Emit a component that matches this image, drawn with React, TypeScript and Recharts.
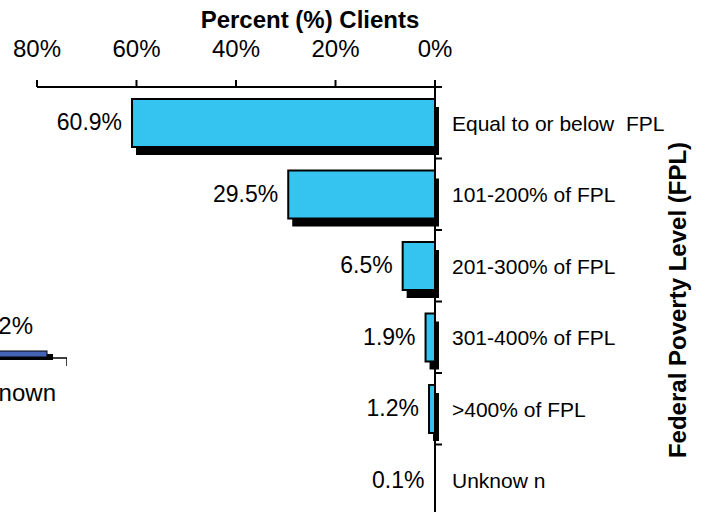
import React from 'react';
import { BarChart, Bar, XAxis, YAxis, LabelList } from 'recharts';

// ---- main chart data ----
const categories = [
  'Equal to or below  FPL',
  '101-200% of FPL',
  '201-300% of FPL',
  '301-400% of FPL',
  '>400% of FPL',
  'Unknow n',
];
const percentClients = [60.9, 29.5, 6.5, 1.9, 1.2, 0.1];
const xTicks = [0, 20, 40, 60, 80];

// ---- cropped neighbouring chart (left edge) ----
const neighborCategories = ['Unknown'];
const neighborValues = [9.2];
const neighborErrors = [0.8];

const data = categories.map((c, i) => ({ category: c, value: percentClients[i] }));
const neighborData = neighborCategories.map((c, i) => ({
  category: c,
  value: neighborValues[i],
  err: neighborErrors[i],
}));

const FONT = '"Liberation Sans", Arial, Helvetica, sans-serif';
const BAR_FILL = '#35C4EF';

const norm = (p: any) => {
  const x = Number(p.x), y = Number(p.y), w = Number(p.width), h = Number(p.height);
  return {
    left: Math.min(x, x + w),
    top: Math.min(y, y + h),
    w: Math.abs(w),
    h: Math.abs(h),
  };
};

const ShadowBar = (props: any) => {
  const { left, top, w, h } = norm(props);
  if (w < 1) {
    return <rect x={left} y={top} width={w} height={h} fill="#000" />;
  }
  return (
    <g>
      <rect x={left + 4} y={top + 8} width={w} height={h} fill="#000" />
      <rect x={left} y={top} width={w} height={h} fill={BAR_FILL} stroke="#000" strokeWidth={2} />
    </g>
  );
};

const ValueLabel = (props: any) => {
  const { left, top, h } = norm(props);
  return (
    <text x={left - 10} y={top + h / 2 + 7} textAnchor="end" fontSize={23} fontFamily={FONT} fill="#000">
      {props.value}%
    </text>
  );
};

const XTick = (props: any) => {
  const { x, y, payload } = props;
  return (
    <text x={x} y={y - 23} textAnchor="middle" fontSize={24} fontFamily={FONT} fill="#000">
      {payload.value}%
    </text>
  );
};

const CategoryTick = (props: any) => {
  const { x, y, payload } = props;
  const half = payload && payload.offset != null ? payload.offset : 0;
  return (
    <g>
      <line x1={x} x2={x + 7} y1={y - half} y2={y - half} stroke="#000" strokeWidth={2} />
      <text x={x + 17} y={y + 8} fontSize={21} fontFamily={FONT} fill="#000" style={{ whiteSpace: 'pre' }}>
        {payload.value}
      </text>
    </g>
  );
};

const XTitle = (props: any) => {
  const vb = props.viewBox || { x: 0, y: 0, width: 0, height: 0 };
  return (
    <text x={vb.x + vb.width - 125} y={vb.y + 28} textAnchor="middle" fontSize={24} fontWeight="bold" fontFamily={FONT} fill="#000">
      Percent (%) Clients
    </text>
  );
};

const YTitle = (props: any) => {
  const vb = props.viewBox || { x: 0, y: 0, width: 0, height: 0 };
  const cx = vb.x + 242;
  const cy = 300;
  return (
    <text
      x={cx}
      y={cy}
      transform={`rotate(-90 ${cx} ${cy})`}
      textAnchor="middle"
      dominantBaseline="central"
      fontSize={24}
      fontWeight="bold"
      fontFamily={FONT}
      fill="#000"
    >
      Federal Poverty Level (FPL)
    </text>
  );
};

// neighbour bar: shadow, bar and its (upper) error whisker, scaled from the bar's own pixel width
const NeighborBar = (props: any) => {
  const { left, top, w, h } = norm(props);
  const payload = props.payload || {};
  const pxPerUnit = payload.value ? w / payload.value : 0;
  const errPx = (payload.err || 0) * pxPerUnit;
  const end = left + w;
  const ey = top + h + 1;
  return (
    <g>
      <rect x={left + 6} y={top + 3} width={w} height={h} fill="#000" />
      <rect x={left} y={top} width={w} height={h} fill="#4364B6" stroke="#000" strokeWidth={1} />
      <line x1={end} x2={end + errPx} y1={ey} y2={ey} stroke="#000" strokeWidth={1.5} />
      <line x1={end + errPx} x2={end + errPx} y1={ey} y2={ey + 8} stroke="#000" strokeWidth={1.5} />
    </g>
  );
};

const NeighborValueLabel = (props: any) => {
  const { left, top, w } = norm(props);
  return (
    <text x={left + w - 14} y={top - 17} textAnchor="end" fontSize={24} fontFamily={FONT} fill="#000">
      {props.value}%
    </text>
  );
};

const NeighborNameLabel = (props: any) => {
  const { left, top, w, h } = norm(props);
  return (
    <text x={left + w + 9} y={top + h / 2 + 47} textAnchor="end" fontSize={24} fontFamily={FONT} fill="#000">
      {props.value}
    </text>
  );
};

export default function App() {
  return (
    <div style={{ position: 'absolute', left: 0, top: 0, width: 702, height: 512, overflow: 'hidden', background: '#fff' }}>
      <div style={{ position: 'absolute', left: -183, top: 299 }}>
        <BarChart width={250} height={110} layout="vertical" data={neighborData} margin={{ top: 0, right: 0, left: 0, bottom: 0 }}>
          <XAxis type="number" hide domain={[0, 10]} allowDataOverflow />
          <YAxis type="category" dataKey="category" hide />
          <Bar dataKey="value" barSize={6} shape={NeighborBar} isAnimationActive={false}>
            <LabelList dataKey="value" content={NeighborValueLabel} />
            <LabelList dataKey="category" content={NeighborNameLabel} />
          </Bar>
        </BarChart>
      </div>
      <div style={{ position: 'absolute', left: 0, top: 0 }}>
        <BarChart width={702} height={530} layout="vertical" data={data} margin={{ top: 0, right: 0, left: 37, bottom: 14 }}>
          <XAxis
            type="number"
            orientation="top"
            reversed
            domain={[0, 80]}
            ticks={xTicks}
            interval={0}
            height={87}
            axisLine={{ stroke: '#000', strokeWidth: 2 }}
            tickLine={{ stroke: '#000', strokeWidth: 2 }}
            tickSize={7}
            tickMargin={0}
            tick={XTick}
            label={XTitle}
          />
          <YAxis
            type="category"
            dataKey="category"
            orientation="right"
            width={267}
            interval={0}
            axisLine={{ stroke: '#000', strokeWidth: 2 }}
            tickLine={false}
            tickSize={0}
            tickMargin={0}
            tick={CategoryTick}
            label={YTitle}
          />
          <Bar dataKey="value" barSize={48} shape={ShadowBar} isAnimationActive={false}>
            <LabelList dataKey="value" content={ValueLabel} />
          </Bar>
        </BarChart>
      </div>
    </div>
  );
}
